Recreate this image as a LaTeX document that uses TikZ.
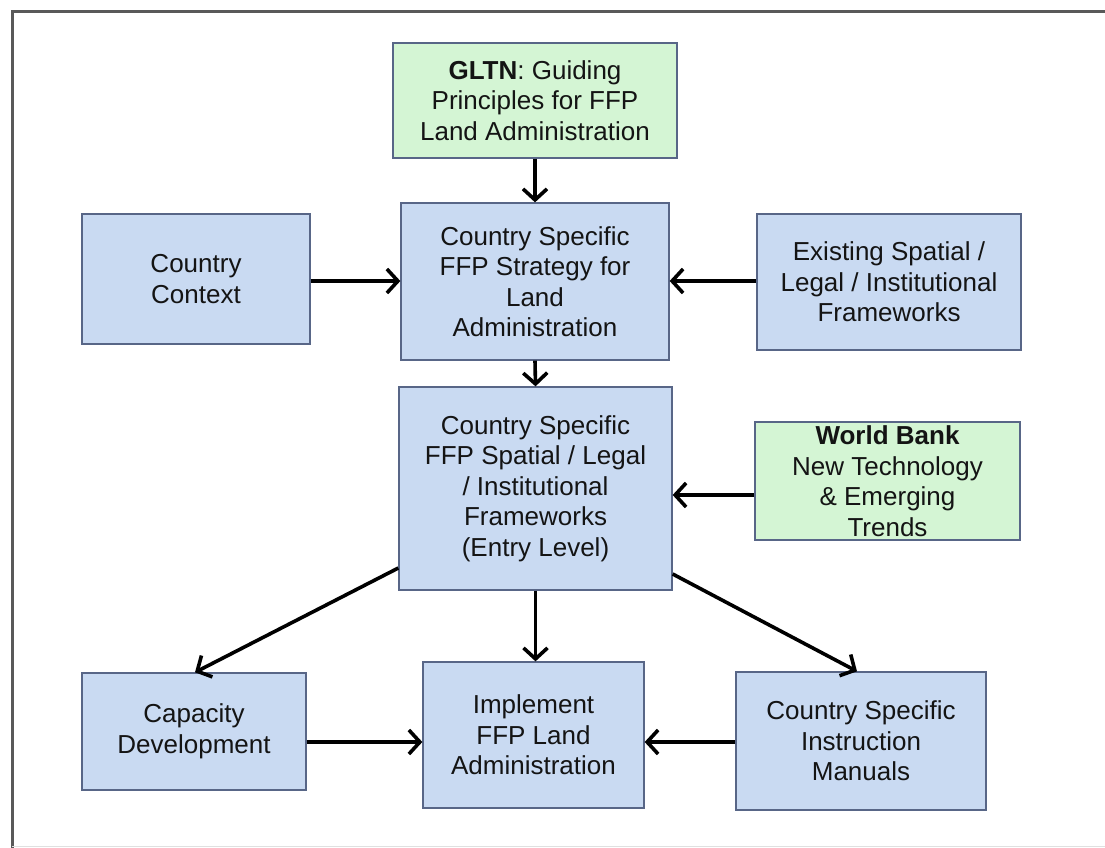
\documentclass[tikz,border=0pt]{standalone}
\usepackage{fontspec}
\setmainfont{Liberation Sans}
\usetikzlibrary{arrows.meta,calc}
\definecolor{bfill}{RGB}{201,218,242}
\definecolor{gfill}{RGB}{212,245,212}
\definecolor{bdraw}{RGB}{88,102,135}
\definecolor{txt}{RGB}{20,20,20}
\begin{document}
\begin{tikzpicture}[x=1pt,y=-1pt,
  box/.style={draw=bdraw,line width=1.3pt,fill=bfill,align=center,inner sep=0pt,
    font=\fontsize{26}{30.5}\selectfont,text=txt},
  gbox/.style={box,fill=gfill},
  arr/.style={line width=3.6pt,-{Straight Barb[length=11pt,width=24pt]}}]
\useasboundingbox (0,0) rectangle (1105,848);
\fill[white] (0,0) rectangle (1105,848);
\draw[line width=3pt,color=black!65] (12,848) -- (12,12) -- (1105,12);
\draw[line width=0.8pt,color=black!12] (12,846) -- (1105,846);

\node[gbox,minimum width=284pt,minimum height=115pt] (gltn) at (535,100.5)
  {\textbf{GLTN}: Guiding\\Principles for FFP\\Land Administration};
\node[box,minimum width=268pt,minimum height=157pt] (strat) at (535,281.5)
  {Country Specific\\FFP Strategy for\\Land\\Administration};
\node[box,minimum width=228pt,minimum height=130pt] (ctx) at (196,279)
  {Country\\Context};
\node[box,minimum width=264pt,minimum height=136pt] (exist) at (889,282)
  {Existing Spatial /\\Legal / Institutional\\Frameworks};
\node[box,minimum width=273pt,minimum height=203pt] (entry) at (535.5,488.5)
  {Country Specific\\FFP Spatial / Legal\\/ Institutional\\Frameworks\\(Entry Level)};
\node[gbox,minimum width=265pt,minimum height=118pt] (wb) at (887.5,481)
  {\textbf{World Bank}\\New Technology\\\& Emerging\\Trends};
\node[box,minimum width=224pt,minimum height=117pt] (cap) at (194,731.5)
  {Capacity\\Development};
\node[box,minimum width=221pt,minimum height=146pt] (impl) at (533.5,735)
  {Implement\\FFP Land\\Administration};
\node[box,minimum width=250pt,minimum height=138pt] (instr) at (861,741)
  {Country Specific\\Instruction\\Manuals};

\coordinate (wbout) at ($(wb.west)+(0,14)$);
\coordinate (capout) at ($(cap.east)+(0,10.5)$);
\coordinate (instrout) at ($(instr.west)+(0,1)$);
\coordinate (entryL) at ($(entry.west)+(0,79.5)$);
\coordinate (entryR) at ($(entry.east)+(0,85.5)$);
\coordinate (capT) at ($(cap.north)+(1,0)$);
\coordinate (instrT) at ($(instr.north)+(-4,0)$);

\draw[arr] (gltn.south) -- (strat.north);
\draw[arr] (ctx.east) ++(0,2) -- (strat.west |- 0,281);
\draw[arr] (exist.west) ++(0,-1) -- (strat.east |- 0,281);
\draw[arr] (strat.south) -- (entry.south |- entry.north);
\draw[arr] (wbout) -- (entry.east |- wbout);
\draw[arr] (entryL) -- (capT);
\draw[arr] (entry.south) -- (entry.south |- impl.north);
\draw[arr] (entryR) -- (instrT);
\draw[arr] (capout) -- (impl.west |- capout);
\draw[arr] (instrout) -- (impl.east |- instrout);
\end{tikzpicture}
\end{document}
